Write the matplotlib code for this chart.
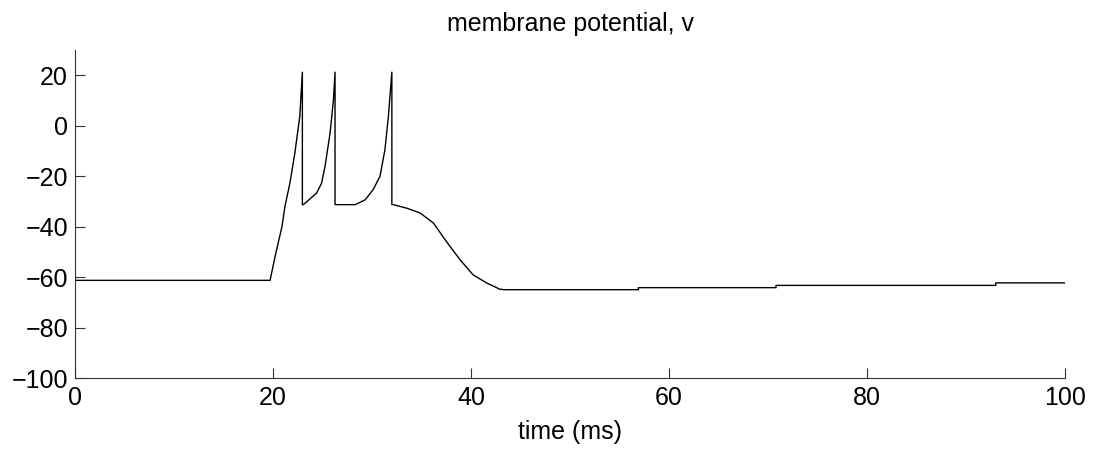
import matplotlib.pyplot as plt

plt.rcParams['font.family'] = ['Liberation Sans', 'DejaVu Sans']

# membrane potential trace (time in ms, v in mV)
t = [0, 19.7, 20.2, 20.9, 21.2, 21.7, 22.2, 22.7, 22.96,
     22.96, 23.06, 24.4, 24.9, 25.25, 25.76, 26.1, 26.26,
     26.26, 28.3, 29.3, 30.1, 30.8, 31.3, 31.65, 32.0,
     32.0, 32.15, 33.5, 34.85, 36.2, 37.5, 38.9, 40.2, 41.6, 42.9, 43.3,
     56.9, 56.9, 70.8, 70.8, 93.0, 93.0, 100]
v = [-61.3, -61.3, -51.9, -40.0, -32.0, -22.8, -10.9, 3.7, 21.2,
     -31.3, -31.3, -26.7, -22.8, -16.1, -2.9, 10.3, 21.2,
     -31.3, -31.3, -29.4, -25.4, -20.1, -9.5, 3.7, 21.2,
     -31.3, -31.3, -32.7, -34.6, -38.6, -45.9, -53.2, -59.1, -62.4, -64.8, -65.0,
     -65.0, -64.2, -64.2, -63.3, -63.3, -62.3, -62.3]

xticks = [0, 20, 40, 60, 80, 100]
yticks = [-100, -80, -60, -40, -20, 0, 20]

fig = plt.figure(figsize=(10.94, 4.5), dpi=100)
ax = fig.add_axes([0.0686, 0.16, 0.905, 0.729])

ax.plot(t, v, color='black', linewidth=1)

ax.set_xlim(0, 100)
ax.set_ylim(-100, 30)
ax.set_xticks(xticks)
ax.set_yticks(yticks)
ax.spines['top'].set_visible(False)
ax.spines['right'].set_visible(False)
ax.spines['left'].set_color('#333333')
ax.spines['bottom'].set_color('#333333')
ax.tick_params(direction='in', length=7, labelsize=18, colors='#333333', labelcolor='black')
ax.tick_params(axis='x', pad=6)
ax.tick_params(axis='y', pad=5)

ax.set_title('membrane potential, v', fontsize=18, pad=14)
ax.set_xlabel('time (ms)', fontsize=18, labelpad=7)

fig.savefig('out.png', dpi=100)
